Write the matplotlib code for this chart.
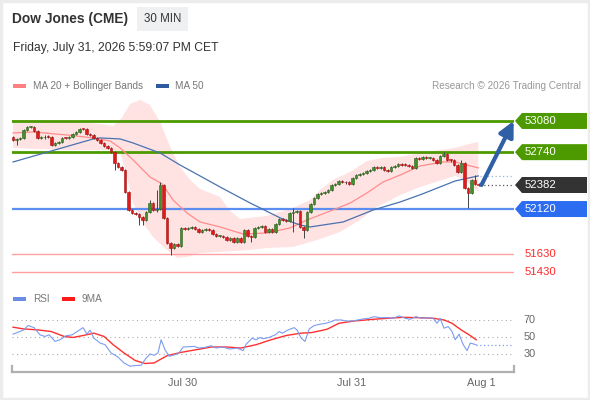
import numpy as np
import matplotlib
matplotlib.use("Agg")
import matplotlib.pyplot as plt
from matplotlib import transforms
from matplotlib.patches import Polygon, Rectangle

plt.rcParams['font.family'] = ['Liberation Sans', 'DejaVu Sans']

# ---- candles (30 min bars), close prices by bar index ----
first_open = 52906
closes = [
    52873, 52884, 52895, 52982, 53015, 53015, 52971, 52895, 52900, 52910,
    52905, 52818, 52840, 52851, 52895, 52890, 52906, 52938, 52960, 52993,
    52990, 52938, 52927, 52895, 52873, 52840, 52807, 52786, 52742, 52622,
    52579, 52546, 52306, 52110, 52077, 52070, 52034, 52001, 52088, 52186,
    52110, 52121, 52382, 52023, 51750, 51696, 51739, 51717, 51914, 51903,
    51914, 51925, 51903, 51870, 51892, 51903, 51892, 51848, 51827, 51830,
    51816, 51783, 51805, 51761, 51805, 51761, 51892, 51827, 51816, 51914,
    51925, 51936, 51870, 51903, 51870, 51957, 52012, 52001, 51990, 52077,
    52088, 52095, 51925, 51892, 52088, 52175, 52241, 52284, 52295, 52306,
    52328, 52382, 52390, 52426, 52415, 52410, 52393, 52459, 52491, 52502,
    52513, 52535, 52546, 52579, 52568, 52575, 52546, 52535, 52579, 52590,
    52611, 52605, 52600, 52590, 52568, 52677, 52670, 52682, 52675, 52680,
    52655, 52622, 52698, 52720, 52655, 52650, 52600, 52524, 52622, 52350,
    52295, 52437, 52390, 52382]
wick = 12
high_marks = {39: 52219, 41: 52328, 42: 52415, 80: 52132, 123: 52742,
              128: 52650, 132: 52491}
low_marks = {1: 52818, 29: 52546, 36: 51946, 37: 51946, 41: 52088,
             45: 51619, 68: 51761, 80: 51870, 83: 51805, 130: 52132}

# ---- indicators, read at bar positions ----
ma50_x = [0, 22.9, 24.9, 30.6, 34.3, 42, 47.7, 53.4, 59.1, 67.7, 70.6, 76.3,
          82, 84.9, 94.3, 102.9, 110.6, 116.9, 126.3, 132.9]
ma50_y = [52633, 52884, 52895, 52884, 52840, 52731, 52600, 52481, 52361,
          52186, 52132, 52023, 51946, 51925, 51979, 52110, 52197, 52284,
          52426, 52481]
ma20_x = [0, 5.7, 15.4, 22.9, 27.7, 30.6, 34.3, 39.1, 42.6, 45.7, 49.7, 53.4,
          59.1, 65.7, 72.6, 79.1, 84, 91.4, 96.3, 101.1, 105.7, 110.6, 116.3,
          122.9, 126.3, 132.9]
ma20_y = [52949, 52960, 52927, 52895, 52862, 52786, 52655, 52470, 52393,
          52219, 52077, 51979, 51925, 51848, 51859, 51914, 52001, 52110,
          52186, 52295, 52415, 52491, 52590, 52633, 52633, 52568]
bb_up_x = [0, 13.4, 24.9, 28.6, 31.1, 33.4, 36.3, 39.1, 42, 44.9, 47.7, 50.6,
           53.4, 56.3, 59.1, 62, 64.9, 72.6, 80, 84.9, 87.7, 91.4, 96.3,
           101.1, 105.7, 110.6, 116.3, 126.3, 129.1, 132.9]
bb_up_y = [53091, 53080, 53047, 53026, 53113, 53265, 53309, 53254, 53069,
           52797, 52579, 52437, 52339, 52295, 52252, 52099, 52012, 52045,
           52132, 52219, 52328, 52437, 52524, 52644, 52677, 52688, 52731,
           52786, 52818, 52851]
bb_lo_x = [0, 15.4, 28.6, 30.6, 32.6, 34.3, 37.1, 40, 42.9, 46.9, 49.7, 53.4,
           59.1, 67.7, 72.6, 80, 86.9, 93.4, 99.1, 104, 110.6, 116.3, 126.3,
           129.1, 132.9]
bb_lo_y = [52786, 52764, 52764, 52742, 52470, 52186, 51968, 51816, 51707,
           51587, 51598, 51641, 51652, 51674, 51696, 51707, 51783, 51870,
           52001, 52143, 52273, 52361, 52481, 52437, 52306]

rsi_x = [0, 2.9, 4.3, 6, 7.7, 9.1, 10.3, 12, 13.4, 15.1, 16.9, 18.3, 20, 21.1,
         22, 23.1, 24.9, 26.3, 28, 29.7, 31.7, 33.4, 34.9, 36.6, 37.7, 39.1,
         40.3, 41.4, 42.3, 43.4, 44.6, 46.3, 47.4, 48.6, 50, 51.7, 53.1, 54.9,
         56.6, 58, 59.7, 62, 64, 65.7, 66.6, 68.3, 69.4, 70.6, 71.4, 73.1,
         74.9, 76, 76.9, 78.6, 80.3, 81.1, 82.3, 83.4, 84.6, 86, 87.7, 89.4,
         90.9, 92, 93.7, 95.1, 96.9, 98.6, 100, 101.7, 103.1, 104.9, 107.1,
         108.6, 110.3, 112, 113.4, 115.1, 116.6, 118.3, 120, 121.1, 122,
         123.1, 124.3, 125.4, 126.3, 127.4, 128.6, 129.7, 130.6, 132.3]
rsi_y = [53.3, 58, 63.4, 61, 52.5, 50.6, 52.5, 44.8, 46.7, 51.4, 52.5, 56.4,
         61, 53.3, 58, 48.6, 42.8, 40.9, 31.2, 27.3, 19.5, 15.6, 16.4, 16.8,
         23.4, 30, 28.5, 31.2, 46.7, 35, 27.3, 29.2, 31.2, 38.2, 38.5, 38.9,
         37, 37.8, 39.7, 37, 38.2, 35.8, 37, 33.9, 41.6, 48.6, 46.7, 49.4,
         47.9, 49.4, 52.5, 56.4, 54.5, 58.3, 61, 58.3, 48.6, 44.8, 59.5, 63.4,
         65, 66.1, 68, 70, 70, 68.8, 68.8, 70, 71.2, 72, 73.9, 72.7, 72.7, 72,
         74.7, 72, 70.8, 73.9, 72, 72.7, 72, 66.1, 72, 60.3, 62.3, 56.4, 46.7,
         53.3, 40.9, 33.9, 42.8, 40.9]
ma9_x = [0, 2.9, 7.1, 10.9, 14.6, 17.1, 20, 23.1, 26, 28.6, 31.7, 34.9, 37.7,
         40.3, 42, 44, 48, 52.3, 56.6, 60.9, 65.1, 69.4, 73.7, 78, 82.3, 85.4,
         89.7, 93.1, 97.4, 102.9, 107.1, 111.4, 115.7, 120, 123.1, 125.4,
         128, 130.3, 132.3]
ma9_y = [61.5, 59.5, 58.3, 56.4, 50.6, 49.4, 51.7, 54.5, 50.6, 40.9, 31.2,
         22.3, 18.8, 19.5, 23.4, 28, 31.9, 35, 38.2, 38.2, 37, 40.9, 46.7,
         51.7, 54.5, 55.2, 59.1, 66.1, 68.8, 70.8, 72, 73.1, 72.7, 72, 70,
         66.1, 58.3, 52.5, 46.7]

levels_green = [53080, 52740]
level_blue = 52120
levels_red = [51630, 51430]
last_price = 52382
day_ticks = [48.3, 96.6, 133.7]
day_labels = ['Jul 30', 'Jul 31', 'Aug 1']

# ---- figure in pixel layout ----
W, H = 590, 400
fig = plt.figure(figsize=(W / 100, H / 100), dpi=100)
fig.patch.set_facecolor('white')


def px_rect(x0, y0, x1, y1):
    return [x0 / W, 1 - y1 / H, (x1 - x0) / W, (y1 - y0) / H]


ax = fig.add_axes(px_rect(12, 95, 514, 285))
rax = fig.add_axes(px_rect(12, 305, 514, 372))
deco = fig.add_axes([0, 0, 1, 1], zorder=-1)
deco.set_xlim(0, W)
deco.set_ylim(H, 0)
deco.axis('off')

x_lo, x_hi = -0.3, 143.1
ax.set_xlim(x_lo, x_hi)
ax.set_ylim(51292, 53363)
rax.set_xlim(x_lo, x_hi)
rax.set_ylim(8.8, 87.6)
for a in (ax, rax):
    a.patch.set_alpha(0)
    a.set_xticks([])
    a.set_yticks([])
    for s in a.spines.values():
        s.set_visible(False)

# bollinger band + moving averages
band = np.column_stack([bb_up_x + bb_lo_x[::-1], bb_up_y + bb_lo_y[::-1]])
ax.add_patch(Polygon(band, closed=True, facecolor='#ffe2e2', edgecolor='none', zorder=1))
ax.plot(ma20_x, ma20_y, color='#ff8c8c', lw=0.9, zorder=3)
ax.plot(ma50_x, ma50_y, color='#4a72b0', lw=0.9, zorder=3)

# price levels
for lv in levels_green:
    ax.axhline(lv, color='#4c9a00', lw=2, zorder=2)
ax.axhline(level_blue, color='#5b8ef0', lw=1.6, zorder=2)
for lv in levels_red:
    ax.axhline(lv, color='#ffa0a0', lw=1, zorder=2)

# candles
opens = [first_open] + closes[:-1]
idx = np.arange(len(closes))
for i in idx:
    o, c = opens[i], closes[i]
    hi = high_marks.get(i, max(o, c) + wick)
    lo = low_marks.get(i, min(o, c) - wick)
    up = c >= o
    ax.vlines(i, lo, hi, color='#444444', lw=0.7, zorder=4)
    body = max(abs(c - o), 10)
    ax.bar(i, body, bottom=min(o, c), width=0.72,
           color='#3f8f2a' if up else '#e01a1a',
           edgecolor='#2b5e1d' if up else '#a81010', lw=0.4, zorder=5)

# extensions from the last bar
last_i = idx[-1]
ax.plot([last_i + 0.5, x_hi], [last_price, last_price], color='#555555',
        lw=0.9, ls=(0, (1, 2)), zorder=3)
ax.plot([ma50_x[-1] + 0.5, x_hi], [ma50_y[-1], ma50_y[-1]], color='#9ab4e0',
        lw=0.9, ls=(0, (1, 2)), zorder=3)

# target arrow
ax.annotate('', xy=(x_hi - 0.1, levels_green[0]), xytext=(last_i + 0.8, last_price),
            arrowprops=dict(arrowstyle='-|>,head_length=0.9,head_width=0.45',
                            color='#2f5fa5', lw=3, shrinkA=0, shrinkB=0),
            zorder=6, annotation_clip=False)

# right side labels
bt = transforms.blended_transform_factory(ax.transAxes, ax.transData)
ppx = (53363 - 51292) / 190.0
fx = 1.0 / 502


def tag(price, color):
    h = 8 * ppx
    pts = [(1 + 1 * fx, price), (1 + 8 * fx, price + h), (1 + 73 * fx, price + h),
           (1 + 73 * fx, price - h), (1 + 8 * fx, price - h)]
    ax.add_patch(Polygon(pts, closed=True, transform=bt, facecolor=color,
                         edgecolor='none', clip_on=False, zorder=6))
    ax.text(1 + 11 * fx, price, str(price), transform=bt, color='white',
            fontsize=8.2, va='center', ha='left', clip_on=False, zorder=7)


for lv in levels_green:
    tag(lv, '#4c9a00')
tag(last_price, '#333333')
tag(level_blue, '#2b6cf0')
for lv in levels_red:
    ax.text(1 + 11 * fx, lv, str(lv), transform=bt, color='#ff2a2a',
            fontsize=8.2, va='center', ha='left', clip_on=False)

# RSI panel
for g in (30, 50, 70):
    rax.axhline(g, color='#aaaaaa', lw=0.8, ls=(0, (1, 3)))
    rax.text(1 + 10 * fx, g, str(g), transform=transforms.blended_transform_factory(
        rax.transAxes, rax.transData), color='#666666', fontsize=7.8, va='center')
rax.plot(ma9_x, ma9_y, color='#ff3030', lw=1.0, zorder=3)
rax.plot(rsi_x, rsi_y, color='#7b9cf0', lw=0.8, zorder=4)
rax.plot([rsi_x[-1], x_hi], [rsi_y[-1], rsi_y[-1]], color='#7b9cf0', lw=0.9,
         ls=(0, (1, 2)), zorder=3)
rax.spines['bottom'].set_visible(True)
rax.spines['bottom'].set_color('#b0b0b0')
rax.spines['bottom'].set_linewidth(1.6)
rt = transforms.blended_transform_factory(rax.transData, rax.transAxes)
for t, lab in zip(day_ticks, day_labels):
    rax.text(t, -0.16, lab, transform=rt, ha='center', va='center',
             color='#666666', fontsize=7.8, clip_on=False)

# ---- header and legends ----
deco.add_patch(Rectangle((1, 1), W - 2.5, H - 2.5, facecolor='none',
                         edgecolor='#ececec', lw=2.5))
deco.plot([12, 12], [366, 372], color='#b0b0b0', lw=1.6)
deco.plot([514, 514], [366, 372], color='#b0b0b0', lw=1.6)
deco.text(12, 19, 'Dow Jones (CME)', fontsize=9.9, fontweight='bold',
          color='#333333', va='center')
deco.add_patch(Rectangle((137, 7), 51, 24, facecolor='#eef0f2', edgecolor='none'))
deco.text(162.5, 19, '30 MIN', fontsize=8.3, color='#333333', ha='center', va='center')
deco.text(13, 48, 'Friday, July 31, 2026 5:59:07 PM CET', fontsize=8.7,
          color='#333333', va='center')

deco.add_patch(Rectangle((13, 84), 13, 4, facecolor='#ff8080', edgecolor='none'))
deco.text(33, 86, 'MA 20 + Bollinger Bands', fontsize=7.2, color='#777777', va='center')
deco.add_patch(Rectangle((156, 84), 13, 4, facecolor='#2f5a9e', edgecolor='none'))
deco.text(175, 86, 'MA 50', fontsize=7.2, color='#777777', va='center')
deco.text(581, 86, 'Research \u00a9 2026 Trading Central', fontsize=7.2,
          color='#999999', va='center', ha='right')

deco.add_patch(Rectangle((13, 297), 13, 4, facecolor='#6a8ee6', edgecolor='none'))
deco.text(33, 299, 'RSI', fontsize=7.2, color='#777777', va='center')
deco.add_patch(Rectangle((62, 297), 13, 4, facecolor='#ff1a1a', edgecolor='none'))
deco.text(82, 299, '9MA', fontsize=7.2, color='#777777', va='center')

fig.savefig('out.png', dpi=100, facecolor='white')
